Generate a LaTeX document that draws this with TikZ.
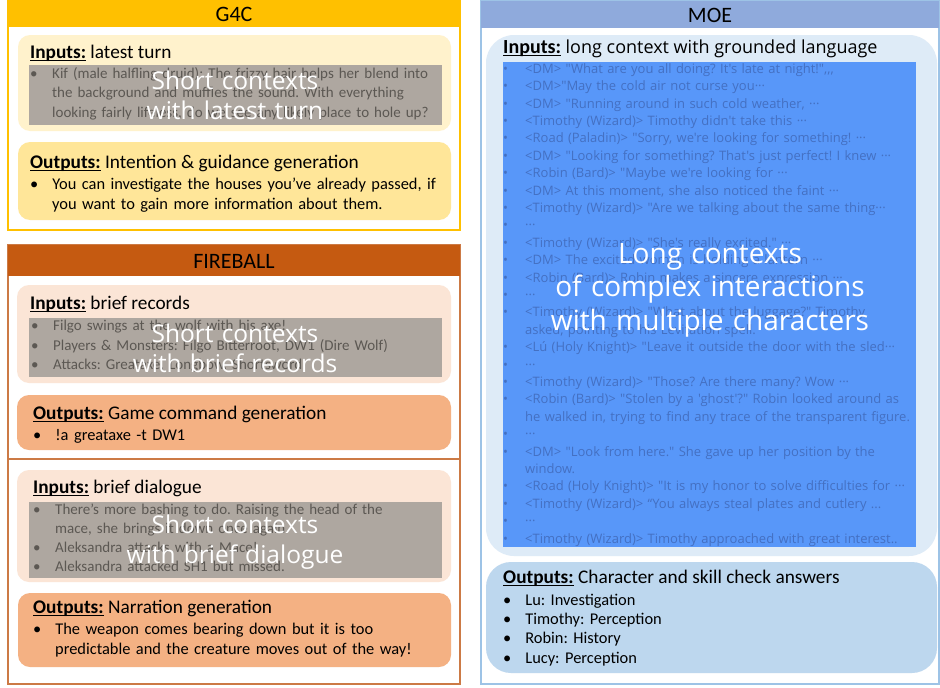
\documentclass[tikz,border=0pt]{standalone}
\usepackage{fontspec}
\setmainfont{Carlito}
\newfontfamily\yahei{Open Sans}
\usepackage{enumitem}
\setlist[itemize]{label=\textbullet, leftmargin=22pt, labelwidth=8pt, labelsep=14pt, align=left, itemsep=0pt, topsep=0pt, parsep=0pt, partopsep=0pt}
\frenchspacing

\definecolor{gold}{HTML}{FFC000}
\definecolor{goldpale}{HTML}{FFF2CC}
\definecolor{goldmid}{HTML}{FFE699}
\definecolor{rust}{HTML}{C55A11}
\definecolor{rustline}{HTML}{CC7A45}
\definecolor{peach}{HTML}{FBE5D6}
\definecolor{apricot}{HTML}{F4B183}
\definecolor{steel}{HTML}{8FAADC}
\definecolor{steelline}{HTML}{9DC3E6}
\definecolor{ice}{HTML}{DEEBF7}
\definecolor{sky}{HTML}{BDD7EE}
\definecolor{veil}{HTML}{AEA7A0}
\definecolor{veiltext}{HTML}{5C5853}
\definecolor{azure}{HTML}{5897F9}
\definecolor{azuretext}{HTML}{4470C2}

\newcommand{\fsz}[2]{\fontsize{#1}{#2}\selectfont}
\newcommand{\hd}[1]{\setbox0\hbox{\bfseries #1}\rlap{\rule[-3.2pt]{\wd0}{1.4pt}}\box0\relax}

\tikzset{
  panel/.style={draw=#1, line width=1.4pt, fill=white},
  headbar/.style={fill=#1},
  card/.style={fill=#1, rounded corners=12pt},
  shade/.style={fill=#1},
  title/.style={font=\fsz{22}{24}},
  cardhead/.style={anchor=base west, inner sep=0pt, font=\fsz{19.3}{22}},
  listtext/.style={anchor=base west, inner sep=0pt, text width=#1, align=left},
  small/.style={font=\fsz{15}{19.5}},
  big/.style={font=\fsz{16.4}{19.6}},
  blurb/.style={anchor=base, inner sep=0pt, text width=440pt, align=center, text=white, font=\yahei\fsz{24.5}{30}},
}

\begin{document}
\begin{tikzpicture}[x=1pt, y=-1pt]
\useasboundingbox (0,0) rectangle (940,688);

% G4C
\draw[panel=gold] (8,1) rectangle (460,230);
\fill[headbar=gold] (8,1) rectangle (460,27);
\node[title] (g4c) at (234,14) {G4C};
\fill[card=goldpale] (18,35) rectangle (451,131);
\node[cardhead] (g4cin) at (30,58) {\hd{Inputs:} latest turn};
\fill[shade=veil] (29,65) rectangle (442,125);
\node[listtext=420pt, small, text=veiltext] (g4clist) at (30,59) {\begin{itemize}
\item Kif (male halfling druid): The frizzy hair helps her blend into\\ the background and muffles the sound. With everything\\ looking fairly lifeless, do we see any likely place to hole up?
\end{itemize}};
\node[blurb] (g4cblurb) at (235,89) {Short contexts\\with latest turn};
\fill[card=goldmid] (18,142) rectangle (451,220);
\node[cardhead] (g4cout) at (30,168) {\hd{Outputs:} Intention \& guidance generation};
\node[listtext=420pt, big] (g4cres) at (30,170) {\begin{itemize}
\item You can investigate the houses you’ve already passed, if\\ you want to gain more information about them.
\end{itemize}};

% FIREBALL
\draw[panel=rustline] (8,245) rectangle (460,684);
\fill[headbar=rust] (8,245) rectangle (460,276);
\node[title] (fireball) at (234,261) {FIREBALL};
\fill[card=peach] (17,285) rectangle (451,383);
\node[cardhead] (recin) at (30,309) {\hd{Inputs:} brief records};
\fill[shade=veil] (29,318) rectangle (442,377);
\node[listtext=420pt, small, text=veiltext] (reclist) at (31,311) {\begin{itemize}
\item Filgo swings at the wolf with his axe!
\item Players \& Monsters: Filgo Bitterroot, DW1 (Dire Wolf)
\item Attacks: Greataxe, Longbow, Shortsword
\end{itemize}};
\node[blurb] (recblurb) at (235,342) {Short contexts\\with brief records};
\fill[card=apricot] (17,395) rectangle (451,450);
\node[cardhead] (recout) at (33,419) {\hd{Outputs:} Game command generation};
\node[listtext=420pt, big] (recres) at (33,421) {\begin{itemize}
\item !a greataxe -t DW1
\end{itemize}};
\draw[rustline, line width=1.2pt] (8,459) -- (460,459);
\fill[card=peach] (17,470) rectangle (451,582);
\node[cardhead] (dlgin) at (33,493) {\hd{Inputs:} brief dialogue};
\fill[shade=veil] (29,502) rectangle (442,578);
\node[listtext=420pt, small, text=veiltext, font=\fsz{15}{19.2}] (dlglist) at (33,495) {\begin{itemize}
\item There's more bashing to do. Raising the head of the\\ mace, she brings it down once again.
\item Aleksandra attacks with a Mace!
\item Aleksandra attacked SH1 but missed.
\end{itemize}};
\node[blurb] (dlgblurb) at (235,533) {Short contexts\\with brief dialogue};
\fill[card=apricot] (18,593) rectangle (451,667);
\node[cardhead] (dlgout) at (33,613) {\hd{Outputs:} Narration generation};
\node[listtext=420pt, big] (dlgres) at (33,615) {\begin{itemize}
\item The weapon comes bearing down but it is too\\ predictable and the creature moves out of the way!
\end{itemize}};

% MOE
\draw[panel=steelline] (481,1) rectangle (939,684);
\fill[headbar=steel] (481,1) rectangle (939,28);
\node[title] (moe) at (710,15) {MOE};
\fill[card=ice, rounded corners=28pt] (486,35) rectangle (937,556);
\node[cardhead] (moein) at (503,53) {\fsz{20}{22}\hd{Inputs:} \yahei\fsz{18}{22}long context with grounded language};
\fill[shade=azure] (503,62) rectangle (916,547);
\node[listtext=430pt, text=azuretext, font=\yahei\fsz{13}{17.4}] (moelist) at (503,56) {\begin{itemize}
\item <DM> "What are you all doing? It's late at night!",,,
\item <DM>"May the cold air not curse you···
\item <DM> "Running around in such cold weather, ···
\item <Timothy (Wizard)> Timothy didn't take this ···
\item <Road (Paladin)> "Sorry, we're looking for something! ···
\item <DM> "Looking for something? That's just perfect! I knew ···
\item <Robin (Bard)> "Maybe we're looking for ···
\item <DM> At this moment, she also noticed the faint ···
\item <Timothy (Wizard)> "Are we talking about the same thing···
\item ···
\item <Timothy (Wizard)> "She's really excited." ···
\item <DM> The excited woman is holding a lantern ···
\item <Robin (Bard)> Robin makes a sincere expression ···
\item ···
\item <Timothy (Wizard)> "What about the luggage?" Timothy\\ asked, pointing to his Levitation spell.
\item <Lú (Holy Knight)> "Leave it outside the door with the sled···
\item ···
\item <Timothy (Wizard)> "Those? Are there many? Wow ···
\item <Robin (Bard)> "Stolen by a 'ghost'?" Robin looked around as\\ he walked in, trying to find any trace of the transparent figure.
\item ···
\item <DM> "Look from here." She gave up her position by the\\ window.
\item <Road (Holy Knight)> "It is my honor to solve difficulties for ···
\item <Timothy (Wizard)> “You always steal plates and cutlery ...
\item ···
\item <Timothy (Wizard)> Timothy approached with great interest..
\end{itemize}};
\node[blurb, font=\yahei\fsz{28}{33.5}] (moeblurb) at (710,263) {Long contexts\\of complex interactions\\with multiple characters};
\fill[card=sky, rounded corners=25pt] (486,562) rectangle (937,673);
\node[cardhead] (moeout) at (503,583) {\hd{Outputs:} Character and skill check answers};
\node[listtext=420pt, big, font=\fsz{16.4}{19.3}] (moeres) at (503,586) {\begin{itemize}
\item Lu: Investigation
\item Timothy: Perception
\item Robin: History
\item Lucy: Perception
\end{itemize}};
\end{tikzpicture}
\end{document}
